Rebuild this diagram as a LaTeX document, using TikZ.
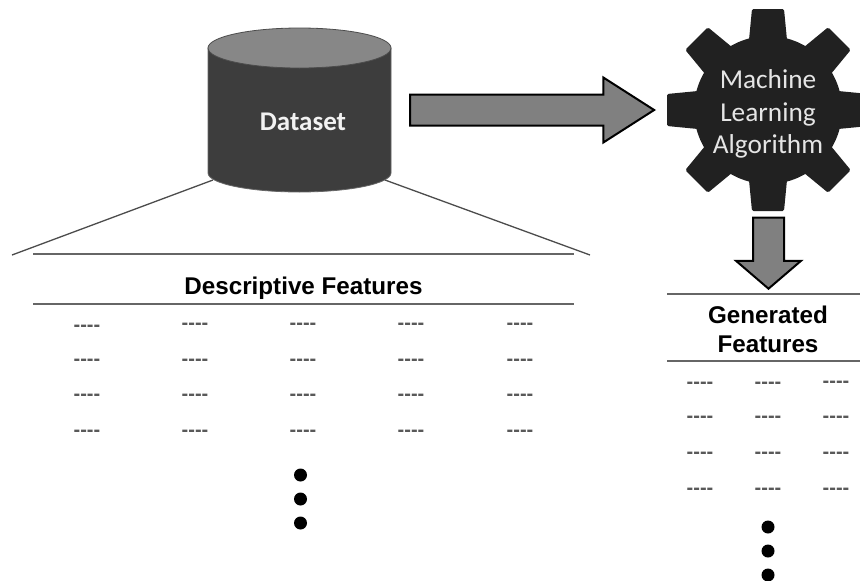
\documentclass[tikz,border=0pt]{standalone}
\usepackage{fontspec}
\setmainfont{Liberation Sans}
\newfontfamily\calibrifont{Carlito}
\newfontfamily\dashfont{Liberation Sans}[Ligatures=NoCommon]
\usetikzlibrary{shapes.geometric, shapes.arrows, positioning}

\begin{document}
\begin{tikzpicture}[
            x=1pt, y=-1pt,
            rule/.style={draw=black!60, line width=1.5pt},
            slant/.style={draw=black!70, line width=1.3pt},
            blockarrow/.style={single arrow, anchor=tip, draw=black, line width=2pt, fill=black!50, inner sep=14.5pt, single arrow head extend=17pt},
            heading/.style={font=\fontsize{24.2}{29}\selectfont\bfseries, align=center, inner sep=0pt},
            blank/.style={font=\dashfont\bfseries\fontsize{20}{20}\selectfont, text=black!65, inner sep=0pt},
            bigdot/.style={circle, fill=black, inner sep=0pt, minimum size=13pt}
        ]
        \clip (0,0) rectangle (860,581);
        \fill[white] (0,0) rectangle (860,581);

        % Zoom lines
        \coordinate (leftEnd) at (12,255);
        \coordinate (rightEnd) at (590,255);
        \coordinate (leftStart) at (213,180);
        \coordinate (rightStart) at (385,180);
        \draw[slant] (leftStart) -- (leftEnd);
        \draw[slant] (rightStart) -- (rightEnd);

        % Dataset
        \filldraw[fill=black!76, draw=black!60, line width=0.8pt] (208,48) -- (208,173) arc[start angle=180, end angle=0, x radius=91.5, y radius=19] -- (391,48) -- cycle;
        \filldraw[fill=black!47, draw=black!70, line width=0.8pt] (299.5,48) ellipse [x radius=91.5, y radius=20];
        \node (datasetlabel) [font=\calibrifont\fontsize{27}{27}\selectfont\bfseries, text=white!95!black, inner sep=0pt] at (303,122) {Dataset};

        % Gear
        \node (gear) [circle, fill=black!87, minimum size=148pt, inner sep=0pt] at (768,110) {};
        \foreach \a in {0,45,...,315} {
            \fill[black!87, rounded corners=1.5pt, shift={(gear.center)}, rotate=\a] (-19,70) -- (-16,101) -- (16,101) -- (19,70) -- cycle;
        }
        \node (gearlabel) [font=\calibrifont\fontsize{27.3}{32.5}\selectfont, text=black!10, align=center, inner sep=0pt] at (768,114) {Machine\\Learning\\Algorithm};

        % Arrows
        \node (toGear) [blockarrow, minimum height=244pt, minimum width=64pt, single arrow tip angle=65.2] at (656,110) {};
        \node (toGenerated) [blockarrow, shape border rotate=270, minimum height=71pt, minimum width=61pt, single arrow tip angle=98.8] at (768.5,290) {};

        % Descriptive table
        \coordinate (descTopL) at (33,254);
        \coordinate (descTopR) at (574,254);
        \coordinate (descMidL) at (33,304);
        \coordinate (descMidR) at (574,304);
        \draw[rule] (descTopL) -- (descTopR);
        \draw[rule] (descMidL) -- (descMidR);
        \node (descHead) [heading] at (303.5,288) {Descriptive Features};
        \foreach \x/\yy in {87/328,195/326,303/326,411/326,520/326} {
            \node[blank] at (\x,\yy) {----};
        }
        \foreach \y in {362,397,433} {
            \foreach \x in {87,195,303,411,520} {
                \node[blank] at (\x,\y) {----};
            }
        }
        \foreach \y in {475,499,523} {
            \node[bigdot] at (300.5,\y) {};
        }

        % Generated table
        \coordinate (genTopL) at (667,294);
        \coordinate (genTopR) at (860,294);
        \coordinate (genMidL) at (667,361);
        \coordinate (genMidR) at (860,361);
        \draw[rule] (genTopL) -- (genTopR);
        \draw[rule] (genMidL) -- (genMidR);
        \node (genHead) [heading] at (768,329) {Generated\\Features};
        \foreach \x/\yy in {700/385,768/385,836/384} {
            \node[blank] at (\x,\yy) {----};
        }
        \foreach \y in {419,455,491} {
            \foreach \x in {700,768,836} {
                \node[blank] at (\x,\y) {----};
            }
        }
        \foreach \y in {527,551,575} {
            \node[bigdot] at (768,\y) {};
        }
    \end{tikzpicture}
\end{document}
